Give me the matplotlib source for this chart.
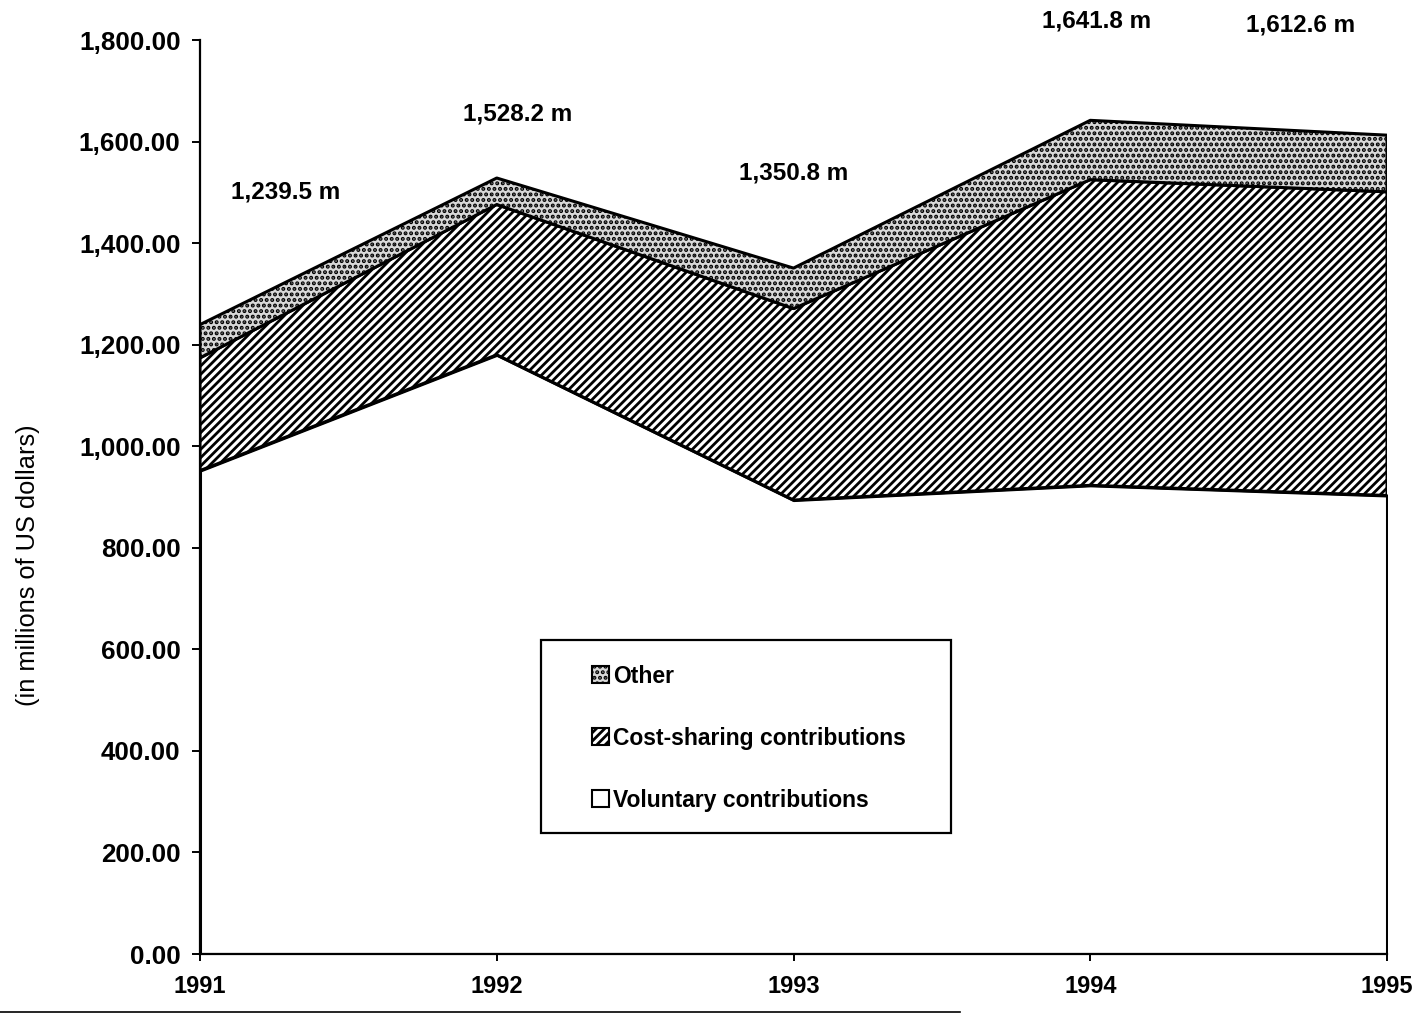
import matplotlib
matplotlib.use("Agg")
import matplotlib.pyplot as plt
from matplotlib.patches import Patch, Rectangle
from matplotlib.lines import Line2D
from matplotlib.ticker import FuncFormatter

plt.rcParams['font.family'] = ['Liberation Sans', 'DejaVu Sans']
plt.rcParams['hatch.linewidth'] = 2.0

# ---- data (millions of US dollars) ----
years = [1991, 1992, 1993, 1994, 1995]
voluntary = [952, 1180, 894, 923, 903]
cost_sharing = [222, 296, 377, 602, 598]
other = [65.5, 52.2, 79.8, 116.8, 111.6]
total_labels = ["1,239.5 m", "1,528.2 m", "1,350.8 m", "1,641.8 m", "1,612.6 m"]
label_x = [1991.29, 1992.07, 1993.0, 1994.02, 1994.71]
label_y = [1500, 1655, 1539, 1838, 1830]
yticks = [0, 200, 400, 600, 800, 1000, 1200, 1400, 1600, 1800]
legend_labels = ["Other", "Cost-sharing contributions", "Voluntary contributions"]

OTHER_FACE = '#d9d9d9'

fig = plt.figure(figsize=(14.19, 10.21), dpi=100)
ax = fig.add_axes([200/1419, 1-954/1021, 1187/1419, 914/1021])

polys = ax.stackplot(years, voluntary, cost_sharing, other,
                     colors=['white', 'white', OTHER_FACE],
                     edgecolor='black', linewidth=2.2)
polys[1].set_hatch('////')
polys[2].set_hatch('...')
for p in polys:
    p.set_edgecolor('black')

ax.set_xlim(years[0], years[-1])
ax.set_ylim(0, 1800)
ax.set_xticks(years)
ax.set_yticks(yticks)
ax.yaxis.set_major_formatter(FuncFormatter(lambda v, _: f"{v:,.2f}"))
for s in ['top', 'right']:
    ax.spines[s].set_visible(False)
for s in ['left', 'bottom']:
    ax.spines[s].set_linewidth(1.6)
ax.tick_params(axis='y', direction='out', length=6, width=1.4, pad=8,
               labelsize=18.7)
ax.tick_params(axis='x', direction='out', length=5, width=1.4, pad=10,
               labelsize=17)
for lab in ax.get_xticklabels() + ax.get_yticklabels():
    lab.set_fontweight('bold')

for x, y, t in zip(label_x, label_y, total_labels):
    ax.text(x, y, t, ha='center', va='center', fontsize=17.5,
            fontweight='bold', clip_on=False)

fig.text(28/1419, 1-565/1021, "(in millions of US dollars)", rotation=90,
         ha='center', va='center', fontsize=18.3)

# legend
handles = [Patch(facecolor=OTHER_FACE, edgecolor='black', hatch='...', linewidth=1.5),
           Patch(facecolor='white', edgecolor='black', hatch='////', linewidth=1.5),
           Patch(facecolor='white', edgecolor='black', linewidth=1.5)]
ax.add_patch(Rectangle((0.2873, 0.1324), 0.3454, 0.2112, transform=ax.transAxes,
                       facecolor='white', edgecolor='black', linewidth=1.6,
                       zorder=5))
leg = ax.legend(handles, legend_labels, loc='upper left',
                bbox_to_anchor=(0.3207, 0.3290), frameon=False, borderpad=0,
                handlelength=0.75, handleheight=0.75, handletextpad=0.15,
                labelspacing=1.7, prop={'size': 16.5, 'weight': 'bold'})
leg.set_zorder(6)

fig.add_artist(Line2D([0, 960/1419], [1-1012/1021, 1-1012/1021],
                      transform=fig.transFigure, color='black', linewidth=1.2))

fig.savefig("out.png", dpi=100)
